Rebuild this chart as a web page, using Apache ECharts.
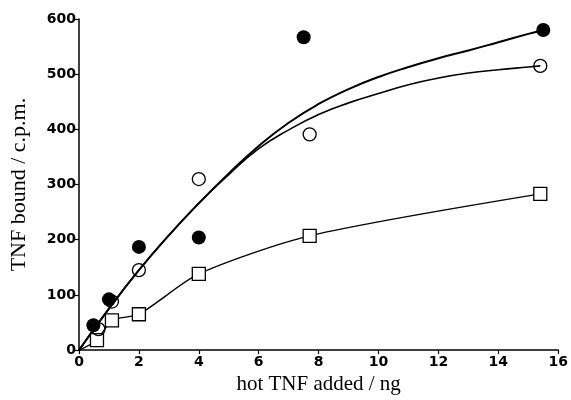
<!DOCTYPE html>
<html>
<head>
<meta charset="utf-8">
<script src="https://cdn.jsdelivr.net/npm/echarts@6/dist/echarts.min.js"></script>
<style>
html,body{margin:0;padding:0;background:#fff;}
#c{width:571px;height:400px;}
</style>
</head>
<body>
<div id="c"></div>
<script>
// Measured points
const filledX = [0.48, 1, 2, 4, 7.5, 15.5];
const filledY = [45, 92, 187, 204, 567, 580];
const openX = [0.65, 1.1, 2, 4, 7.7, 15.4];
const openY = [38, 88, 145, 310, 391, 515];
const squareX = [0.6, 1.1, 2, 4, 7.7, 15.4];
const squareY = [18, 54, 65, 138, 207, 283];
// Fitted curves
const fitFilledX = [0, 1, 2, 3, 4, 5, 6, 7, 8, 9, 10, 11, 12, 13, 14, 15, 15.5];
const fitFilledY = [0, 75, 145, 208, 266, 320, 370, 412, 446, 473, 495, 513, 529, 543, 558, 573, 580];
const fitOpenX = [0, 1, 2, 3, 4, 5, 6, 7, 8, 9, 10, 11, 12, 13, 14, 15, 15.4];
const fitOpenY = [0, 75, 145, 208, 266, 318, 365, 399, 427, 448, 465, 481, 493, 502, 508, 513, 515];
const squareLineX = [0, 0.6, 1.1, 2, 4, 7.7, 15.4];
const squareLineY = [0, 18, 54, 65, 138, 207, 283];
// Axis
const xTicks = [0, 2, 4, 6, 8, 10, 12, 14, 16];
const yTicks = [0, 100, 200, 300, 400, 500, 600];
const xName = 'hot TNF added / ng';
const yName = 'TNF bound / c.p.m.';

const zip = (a, b) => a.map((v, i) => [v, b[i]]);

const chart = echarts.init(document.getElementById('c'), null, {renderer: 'canvas'});
const labelStyle = {fontFamily: 'DejaVu Sans', fontWeight: 'bold', fontSize: 14, color: '#000'};
chart.setOption({
  animation: false,
  backgroundColor: '#fff',
  grid: {left: 77, right: 12, top: 19, bottom: 47, containLabel: false},
  xAxis: {
    type: 'value', min: xTicks[0], max: xTicks[xTicks.length - 1], interval: 2,
    name: xName, nameLocation: 'middle', nameGap: 22,
    nameTextStyle: {fontFamily: 'Liberation Serif', fontSize: 21, color: '#000'},
    axisLine: {lineStyle: {color: '#000', width: 1.5}},
    axisTick: {show: true, length: 4, lineStyle: {color: '#000', width: 1.2}},
    axisLabel: Object.assign({margin: 5}, labelStyle),
    splitLine: {show: false}
  },
  yAxis: {
    type: 'value', min: yTicks[0], max: yTicks[yTicks.length - 1], interval: 100,
    name: yName, nameLocation: 'middle', nameGap: 49,
    nameTextStyle: {fontFamily: 'Liberation Serif', fontSize: 22, color: '#000'},
    axisLine: {show: true, lineStyle: {color: '#000', width: 1.5}},
    axisTick: {show: true, length: 5, lineStyle: {color: '#000', width: 1.2}},
    axisLabel: Object.assign({margin: 3}, labelStyle),
    splitLine: {show: false}
  },
  series: [
    {type: 'line', data: zip(fitFilledX, fitFilledY), smooth: 0.5, showSymbol: false,
     lineStyle: {color: '#000', width: 2}, z: 2},
    {type: 'line', data: zip(fitOpenX, fitOpenY), smooth: 0.5, showSymbol: false,
     lineStyle: {color: '#000', width: 1.6}, z: 2},
    {type: 'line', data: zip(squareLineX, squareLineY), smooth: 0.25, showSymbol: false,
     lineStyle: {color: '#000', width: 1.4}, z: 2},
    {type: 'scatter', data: zip(squareX, squareY), symbol: 'rect', symbolSize: 13,
     itemStyle: {color: '#fff', borderColor: '#000', borderWidth: 1.3, opacity: 1}, z: 3},
    {type: 'scatter', data: zip(openX, openY), symbol: 'circle', symbolSize: 13,
     itemStyle: {color: 'rgba(255,255,255,0)', borderColor: '#000', borderWidth: 1.3, opacity: 1}, z: 3},
    {type: 'scatter', data: zip(filledX, filledY), symbol: 'circle', symbolSize: 14,
     itemStyle: {color: '#000', borderWidth: 0, opacity: 1}, z: 4}
  ]
});
</script>
</body>
</html>
